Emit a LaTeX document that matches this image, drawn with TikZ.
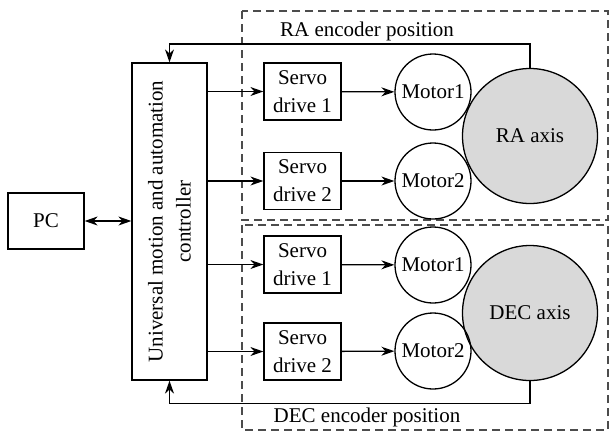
\documentclass[tikz,border=0pt]{standalone}
\usepackage{fontspec}
\setmainfont{Liberation Serif}
\usetikzlibrary{arrows.meta}
\tikzstyle{block} = [rectangle, draw=black, inner sep=0pt, minimum width=38.5pt, minimum height=28.5pt, align=center]
\tikzstyle{pcblock} = [rectangle, draw=black, inner sep=0pt, minimum width=38pt, minimum height=28pt]
\tikzstyle{ctrlblock} = [rectangle, draw=black, inner sep=0pt, rotate=90, minimum width=158.5pt, minimum height=37.5pt, align=center]
\tikzstyle{motor} = [circle, draw=black, inner sep=0pt, minimum size=38pt]
\tikzstyle{axis} = [circle, draw=black, fill=gray!30, inner sep=0pt, minimum size=67.5pt]
\tikzstyle{group} = [draw=black!70, dash pattern=on 4pt off 2.5pt]
\tikzstyle{arrow} = [->, >={Stealth[length=6.5pt,width=4.5pt]}]

\begin{document}
\begin{tikzpicture}[x=0.5pt, y=-0.5pt, line width=0.65pt, every node/.style={font=\fontsize{10.5}{14}\selectfont}]
    \useasboundingbox (0,0) rectangle (610,435);
    % dashed groups
    \draw [group] (242,11) rectangle (608,220);
    \draw [group] (242,225) rectangle (608,430);

    \node (pc) [pcblock] at (46,221) {PC};
    \node (ctrl) [ctrlblock] at (169.5,221.5) {Universal motion and automation\\controller};

    % RA axis
    \node (ras1) [block] at (302.5,91.5) {Servo\\drive 1};
    \node (ras2) [block] at (302.5,181) {Servo\\drive 2};
    \node (raaxis) [axis] at (530,136) {RA axis};
    \node (ram1) [motor] at (433,92) {Motor1};
    \node (ram2) [motor] at (433,181) {Motor2};
    \node (ralabel) at (367,31) {RA encoder position};

    % DEC axis
    \node (decs1) [block] at (302.5,264.5) {Servo\\drive 1};
    \node (decs2) [block] at (302.5,351.5) {Servo\\drive 2};
    \node (decaxis) [axis] at (530,313) {DEC axis};
    \node (decm1) [motor] at (433,265) {Motor1};
    \node (decm2) [motor] at (433,351) {Motor2};
    \node (declabel) at (367,417) {DEC encoder position};

    \draw [arrow, <->] (pc.east) -- (pc.east -| ctrl.north);
    \draw [arrow] (ctrl.south |- ras1) -- (ras1);
    \draw [arrow] (ctrl.south |- ras2) -- (ras2);
    \draw [arrow] (ctrl.south |- decs1) -- (decs1);
    \draw [arrow] (ctrl.south |- decs2) -- (decs2);
    \draw [arrow] (ras1) -- (ram1);
    \draw [arrow] (ras2) -- (ram2);
    \draw [arrow] (decs1) -- (decm1);
    \draw [arrow] (decs2) -- (decm2);
    \draw [arrow] (raaxis.north) -- ++(0,-24) -| (ctrl.east);
    \draw [arrow] (decaxis.south) -- ++(0,22) -| (ctrl.west);
\end{tikzpicture}
\end{document}
